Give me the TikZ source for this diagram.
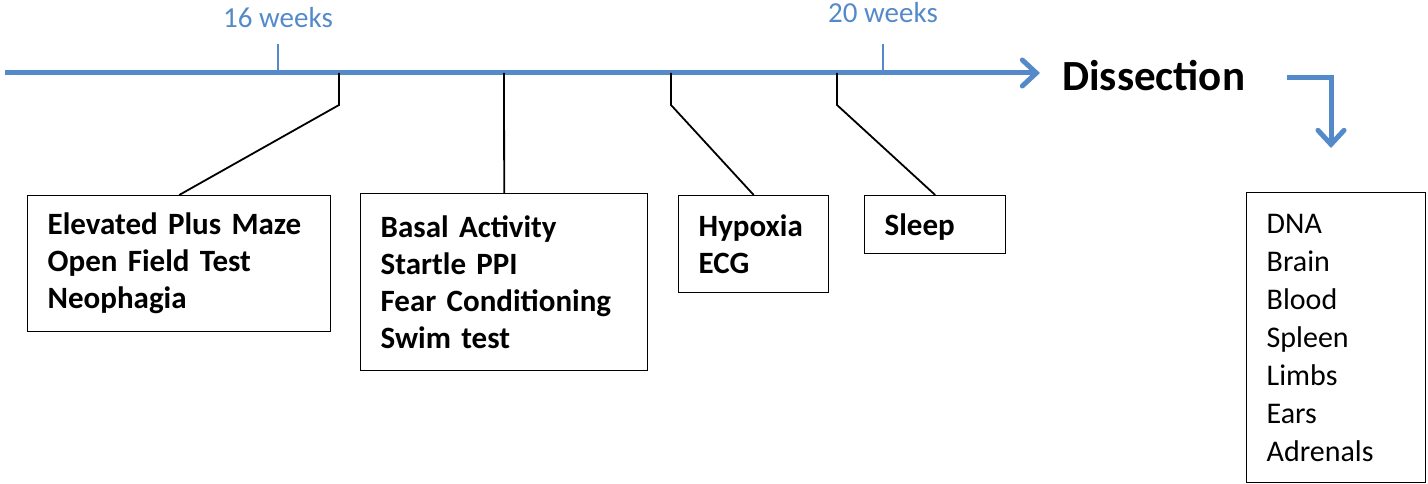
\documentclass[tikz,border=0pt]{standalone}
\usepackage{fontspec}
\setmainfont{Carlito}
\usepackage{tikz}
\usetikzlibrary{arrows.meta, positioning}
\definecolor{lineblue}{RGB}{84,138,202}
\tikzset{
timeline/.style={draw=lineblue, line width=5pt, -{Straight Barb[length=14pt, width=26pt, line cap=round]}}, % main time axis
tick/.style={draw=lineblue, line width=1.6pt}, % week marks
weeklabel/.style={text=lineblue, font=\fontsize{29}{33}\selectfont, inner sep=0pt, anchor=base}, % text above week marks
link/.style={draw=black, line width=1.8pt}, % connectors from axis to boxes
testbox/.style={draw=black, line width=1.4pt, anchor=north west, align=left, inner xsep=20pt, inner ysep=0pt, font=\bfseries\fontsize{31}{37}\selectfont},
samplebox/.style={testbox, font=\fontsize{30}{38}\selectfont},
}

\begin{document}
\begin{tikzpicture}[x=1pt, y=-1pt]
  \useasboundingbox (0,0) rectangle (1428,484);

  % time axis and its marks
  \coordinate (t0) at (5,73);
  \coordinate (tend) at (1040,73);
  \coordinate (w16) at (278,73);
  \coordinate (w20) at (883,73);
  \coordinate (t1) at (339,73);
  \coordinate (t2) at (504,73);
  \coordinate (t3) at (671,73);
  \coordinate (t4) at (837,73);
  \draw[timeline] (t0) -- (tend);
  \draw[tick] (w16) -- ++(0,-29) ++(0,-16) node[weeklabel] (lab16) {16 weeks};
  \draw[tick] (w20) -- ++(0,-29) ++(0,-21) node[weeklabel] (lab20) {20 weeks};

  % test boxes
  \node[testbox, text width=263pt, minimum height=136pt] (ems) at (27,195)
    {Elevated Plus Maze\\Open Field Test\\Neophagia};
  \node[testbox, text width=247pt, minimum height=177pt] (basal) at (360,193)
    {Basal Activity\\Startle PPI\\Fear Conditioning\\Swim test};
  \node[testbox, text width=110pt, minimum height=97pt] (hyp) at (678,195)
    {Hypoxia\\ECG};
  \node[testbox, text width=101pt, minimum height=58pt, text depth=0pt] (sleep) at (864,195)
    {Sleep};

  \path[link]
  (t1) -- ++(0,32) -- (ems.north)
  (t2) -- (basal.north)
  (t3) -- ++(0,32) -- (hyp.north)
  (t4) -- ++(0,32) -- (sleep.north);

  % dissection and samples
  \node[anchor=west, inner sep=0pt, font=\bfseries\fontsize{43}{50}\selectfont] (diss) at (1062,76) {Dissection};
  \coordinate (d0) at (1287,78);
  \coordinate (d1) at (1331,148);
  \draw[timeline] (d0) -| (d1);
  \node[samplebox, text width=139pt, minimum height=290pt] (samples) at (1246,192)
    {DNA\\Brain\\Blood\\Spleen\\Limbs\\Ears\\Adrenals};
\end{tikzpicture}
\end{document}
